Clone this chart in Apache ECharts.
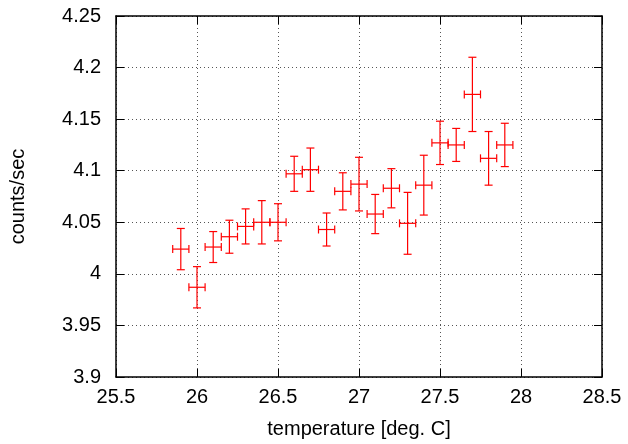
<!DOCTYPE html>
<html>
<head>
<meta charset="utf-8">
<script src="https://cdn.jsdelivr.net/npm/echarts@6/dist/echarts.min.js"></script>
<style>html,body{margin:0;padding:0;background:#fff}#c{width:628px;height:444px}</style>
</head>
<body>
<div id="c"></div>
<script>
var temps = [25.9, 26.0, 26.1, 26.2, 26.3, 26.4, 26.5, 26.6, 26.7, 26.8, 26.9, 27.0, 27.1, 27.2, 27.3, 27.4, 27.5, 27.6, 27.7, 27.8, 27.9];
var counts = [4.024, 3.987, 4.026, 4.036, 4.046, 4.050, 4.050, 4.097, 4.101, 4.043, 4.080, 4.087, 4.058, 4.083, 4.049, 4.086, 4.127, 4.125, 4.174, 4.112, 4.125];
var countErr = [0.020, 0.020, 0.015, 0.016, 0.017, 0.021, 0.018, 0.017, 0.021, 0.016, 0.018, 0.026, 0.019, 0.019, 0.030, 0.029, 0.021, 0.016, 0.036, 0.026, 0.021];
var tempErr = [0.05, 0.05, 0.05, 0.05, 0.05, 0.05, 0.05, 0.05, 0.05, 0.05, 0.05, 0.05, 0.05, 0.05, 0.05, 0.05, 0.05, 0.05, 0.05, 0.05, 0.05];
var xTickLabels = ['25.5', '26', '26.5', '27', '27.5', '28', '28.5'];
var yTickLabels = ['3.9', '3.95', '4', '4.05', '4.1', '4.15', '4.2', '4.25'];

var FONT = 'Liberation Sans';
var FS = 20;
var data = temps.map(function (t, i) { return [t, counts[i], tempErr[i], countErr[i]]; });

function fmt(v) { return String(+v.toFixed(2)); }

var chart = echarts.init(document.getElementById('c'), null, {renderer: 'canvas'});
var tickStyle = {show: true, inside: true, length: 8, lineStyle: {color: '#000', width: 1}};
var axisLineStyle = {show: true, onZero: false, lineStyle: {color: '#000', width: 1.5}};
var splitStyle = {show: true, lineStyle: {color: '#555', width: 1, type: [1, 3]}};

chart.setOption({
  animation: false,
  backgroundColor: '#fff',
  grid: {left: 115, right: 26, top: 16, bottom: 64, containLabel: false},
  xAxis: [{
    type: 'value', min: 25.5, max: 28.5, interval: 0.5, position: 'bottom',
    name: 'temperature [deg. C]', nameLocation: 'middle', nameGap: 42,
    nameTextStyle: {fontFamily: FONT, fontSize: FS, color: '#000'},
    axisLine: axisLineStyle, axisTick: tickStyle, splitLine: splitStyle,
    axisLabel: {fontFamily: FONT, fontSize: FS, color: '#000', margin: 10,
      formatter: function (v) { var i = Math.round((v - 25.5) / 0.5); return xTickLabels[i] || fmt(v); }}
  }, {
    type: 'value', min: 25.5, max: 28.5, interval: 0.5, position: 'top',
    axisLine: axisLineStyle, axisTick: tickStyle, splitLine: {show: false}, axisLabel: {show: false}
  }],
  yAxis: [{
    type: 'value', min: 3.9, max: 4.25, interval: 0.05, position: 'left',
    name: 'counts/sec', nameLocation: 'middle', nameGap: 88, nameRotate: 90,
    nameTextStyle: {fontFamily: FONT, fontSize: FS, color: '#000'},
    axisLine: axisLineStyle, axisTick: tickStyle, splitLine: splitStyle,
    axisLabel: {fontFamily: FONT, fontSize: FS, color: '#000', margin: 15,
      formatter: function (v) { var i = Math.round((v - 3.9) / 0.05); return yTickLabels[i] || fmt(v); }}
  }, {
    type: 'value', min: 3.9, max: 4.25, interval: 0.05, position: 'right',
    axisLine: axisLineStyle, axisTick: tickStyle, splitLine: {show: false}, axisLabel: {show: false}
  }],
  series: [{
    type: 'custom',
    xAxisIndex: 0, yAxisIndex: 0,
    data: data,
    renderItem: function (params, api) {
      var x = api.value(0), y = api.value(1), dx = api.value(2), dy = api.value(3);
      var top = api.coord([x, y + dy]);
      var bot = api.coord([x, y - dy]);
      var lft = api.coord([x - dx, y]);
      var rgt = api.coord([x + dx, y]);
      var c = 4;
      var st = {stroke: '#ff0000', lineWidth: 1.2};
      function ln(x1, y1, x2, y2) { return {type: 'line', shape: {x1: x1, y1: y1, x2: x2, y2: y2}, style: st}; }
      return {type: 'group', children: [
        ln(top[0], top[1], bot[0], bot[1]),
        ln(top[0] - c, top[1], top[0] + c, top[1]),
        ln(bot[0] - c, bot[1], bot[0] + c, bot[1]),
        ln(lft[0], lft[1], rgt[0], rgt[1]),
        ln(lft[0], lft[1] - c, lft[0], lft[1] + c),
        ln(rgt[0], rgt[1] - c, rgt[0], rgt[1] + c)
      ]};
    }
  }]
});
</script>
</body>
</html>
